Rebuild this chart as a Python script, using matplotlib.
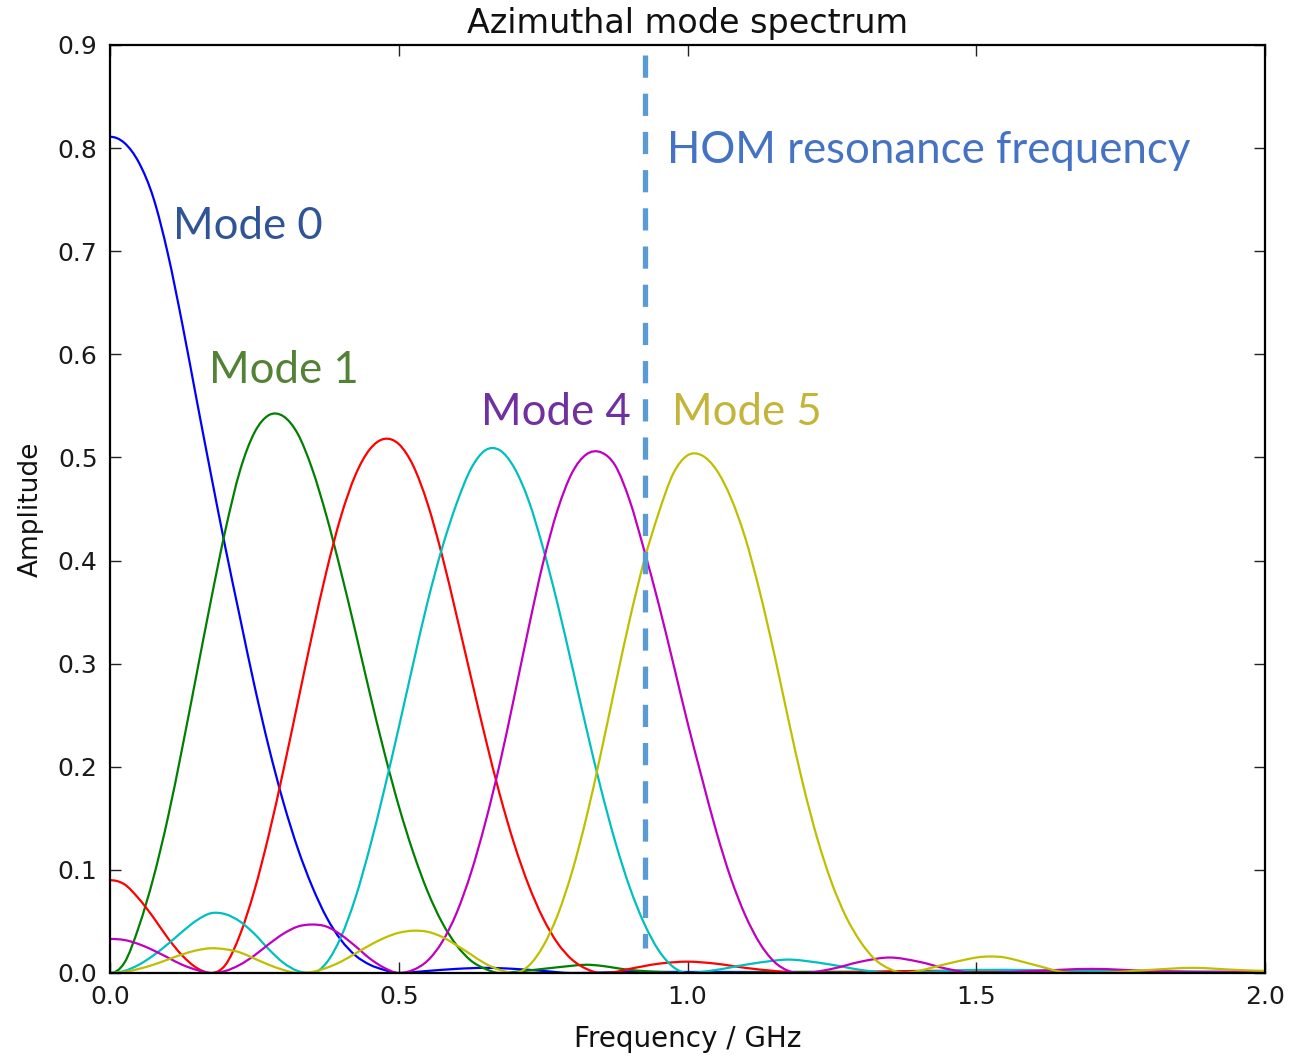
import matplotlib
matplotlib.use("Agg")
import matplotlib.pyplot as plt
from matplotlib.path import Path
from matplotlib.patches import PathPatch
from matplotlib.ticker import FormatStrFormatter

# Spectrum amplitude of each azimuthal mode versus frequency (GHz)
f_mode0 = [0.000, 0.025, 0.050, 0.075, 0.100, 0.125, 0.150, 0.175, 0.200, 0.225,
           0.250, 0.275, 0.300, 0.325, 0.350, 0.375, 0.400, 0.425, 0.450, 0.475,
           0.500, 0.550, 0.600, 0.650, 0.700, 0.750, 0.800, 0.900, 1.000, 1.200,
           1.400, 1.600, 1.800, 2.000]
a_mode0 = [0.811, 0.805, 0.786, 0.752, 0.698, 0.630, 0.556, 0.483, 0.412, 0.345,
           0.279, 0.219, 0.166, 0.121, 0.084, 0.054, 0.032, 0.017, 0.008, 0.003,
           0.000, 0.002, 0.004, 0.005, 0.004, 0.002, 0.000, 0.001, 0.001, 0.001,
           0.001, 0.001, 0.000, 0.000]

f_mode1 = [0.000, 0.025, 0.050, 0.075, 0.100, 0.125, 0.150, 0.175, 0.200, 0.225,
           0.250, 0.275, 0.300, 0.325, 0.350, 0.375, 0.400, 0.425, 0.450, 0.475,
           0.500, 0.525, 0.550, 0.575, 0.600, 0.625, 0.650, 0.675, 0.700, 0.750,
           0.800, 0.825, 0.850, 0.900, 0.950, 1.000, 1.200, 1.400, 1.600, 1.800,
           2.000]
a_mode1 = [0.000, 0.010, 0.045, 0.092, 0.150, 0.218, 0.290, 0.362, 0.430, 0.487,
           0.524, 0.541, 0.540, 0.523, 0.489, 0.443, 0.389, 0.331, 0.271, 0.214,
           0.162, 0.117, 0.079, 0.049, 0.027, 0.012, 0.004, 0.000, 0.001, 0.004,
           0.007, 0.008, 0.007, 0.003, 0.001, 0.000, 0.001, 0.001, 0.001, 0.000,
           0.000]

f_mode2 = [0.000, 0.025, 0.050, 0.075, 0.100, 0.125, 0.150, 0.175, 0.200, 0.225,
           0.250, 0.275, 0.300, 0.325, 0.350, 0.375, 0.400, 0.425, 0.450, 0.475,
           0.500, 0.525, 0.550, 0.575, 0.600, 0.625, 0.650, 0.675, 0.700, 0.725,
           0.750, 0.775, 0.800, 0.825, 0.850, 0.875, 0.900, 0.950, 1.000, 1.050,
           1.100, 1.150, 1.200, 1.400, 1.600, 1.800, 2.000]
a_mode2 = [0.090, 0.086, 0.072, 0.054, 0.034, 0.017, 0.005, 0.000, 0.008, 0.037,
           0.080, 0.134, 0.196, 0.262, 0.328, 0.390, 0.443, 0.483, 0.508, 0.518,
           0.513, 0.492, 0.455, 0.405, 0.347, 0.287, 0.228, 0.173, 0.125, 0.085,
           0.053, 0.029, 0.013, 0.004, 0.000, 0.001, 0.004, 0.009, 0.011, 0.009,
           0.005, 0.002, 0.000, 0.002, 0.002, 0.001, 0.001]

f_mode3 = [0.000, 0.025, 0.050, 0.075, 0.100, 0.125, 0.150, 0.175, 0.200, 0.225,
           0.250, 0.275, 0.300, 0.325, 0.350, 0.375, 0.400, 0.425, 0.450, 0.475,
           0.500, 0.525, 0.550, 0.575, 0.600, 0.625, 0.650, 0.675, 0.700, 0.725,
           0.750, 0.775, 0.800, 0.825, 0.850, 0.875, 0.900, 0.925, 0.950, 0.975,
           1.000, 1.050, 1.100, 1.150, 1.175, 1.200, 1.250, 1.300, 1.350, 1.500,
           1.700, 2.000]
a_mode3 = [0.000, 0.002, 0.008, 0.017, 0.028, 0.040, 0.051, 0.058, 0.057, 0.050,
           0.038, 0.023, 0.010, 0.002, 0.000, 0.010, 0.035, 0.073, 0.122, 0.178,
           0.238, 0.300, 0.360, 0.412, 0.455, 0.489, 0.507, 0.507, 0.490, 0.458,
           0.412, 0.358, 0.298, 0.237, 0.179, 0.127, 0.083, 0.048, 0.022, 0.006,
           0.000, 0.003, 0.008, 0.012, 0.013, 0.012, 0.008, 0.003, 0.000, 0.003,
           0.002, 0.001]

f_mode4 = [0.000, 0.025, 0.050, 0.075, 0.100, 0.125, 0.150, 0.175, 0.200, 0.225,
           0.250, 0.275, 0.300, 0.325, 0.350, 0.375, 0.400, 0.425, 0.450, 0.475,
           0.500, 0.525, 0.550, 0.575, 0.600, 0.625, 0.650, 0.675, 0.700, 0.725,
           0.750, 0.775, 0.800, 0.825, 0.850, 0.875, 0.900, 0.925, 0.950, 0.975,
           1.000, 1.025, 1.050, 1.075, 1.100, 1.125, 1.150, 1.175, 1.200, 1.250,
           1.300, 1.350, 1.400, 1.450, 1.500, 1.600, 1.700, 1.800, 1.900, 2.000]
a_mode4 = [0.033, 0.032, 0.028, 0.022, 0.015, 0.008, 0.003, 0.000, 0.002, 0.008,
           0.017, 0.028, 0.038, 0.045, 0.047, 0.045, 0.037, 0.026, 0.014, 0.005,
           0.000, 0.003, 0.012, 0.030, 0.058, 0.097, 0.146, 0.203, 0.268, 0.335,
           0.398, 0.449, 0.485, 0.503, 0.505, 0.492, 0.458, 0.410, 0.358, 0.301,
           0.243, 0.189, 0.137, 0.092, 0.056, 0.029, 0.011, 0.002, 0.000, 0.004,
           0.011, 0.015, 0.011, 0.004, 0.000, 0.002, 0.004, 0.002, 0.001, 0.001]

f_mode5 = [0.000, 0.025, 0.050, 0.075, 0.100, 0.125, 0.150, 0.175, 0.200, 0.225,
           0.250, 0.275, 0.300, 0.325, 0.350, 0.375, 0.400, 0.425, 0.450, 0.475,
           0.500, 0.525, 0.550, 0.575, 0.600, 0.625, 0.650, 0.675, 0.700, 0.725,
           0.750, 0.775, 0.800, 0.825, 0.850, 0.875, 0.900, 0.925, 0.950, 0.975,
           1.000, 1.025, 1.050, 1.075, 1.100, 1.125, 1.150, 1.175, 1.200, 1.225,
           1.250, 1.275, 1.300, 1.325, 1.350, 1.375, 1.400, 1.450, 1.500, 1.525,
           1.550, 1.600, 1.650, 1.700, 1.800, 1.875, 1.950, 2.000]
a_mode5 = [0.000, 0.001, 0.004, 0.008, 0.013, 0.018, 0.022, 0.024, 0.023, 0.020,
           0.014, 0.008, 0.003, 0.000, 0.001, 0.005, 0.011, 0.019, 0.027, 0.034,
           0.039, 0.041, 0.040, 0.035, 0.027, 0.018, 0.009, 0.003, 0.000, 0.007,
           0.026, 0.056, 0.098, 0.151, 0.213, 0.279, 0.343, 0.400, 0.446, 0.484,
           0.502, 0.502, 0.488, 0.461, 0.422, 0.370, 0.310, 0.245, 0.183, 0.130,
           0.087, 0.054, 0.030, 0.013, 0.004, 0.000, 0.002, 0.009, 0.015, 0.016,
           0.015, 0.008, 0.001, 0.000, 0.003, 0.005, 0.003, 0.002]

series = [
    (f_mode0, a_mode0, "b"),
    (f_mode1, a_mode1, "g"),
    (f_mode2, a_mode2, "r"),
    (f_mode3, a_mode3, "c"),
    (f_mode4, a_mode4, "m"),
    (f_mode5, a_mode5, "y"),
]

hom_freq = 0.927          # GHz
hom_span = (0.024, 0.89)  # vertical extent of the marker line

mode_labels = ["Mode 0", "Mode 1", "Mode 4", "Mode 5"]
mode_label_pos = [(0.109, 0.712), (0.171, 0.572), (0.643, 0.531), (0.973, 0.531)]
mode_label_colors = ["#2F5597", "#538135", "#7030A0", "#C4B53A"]


def smooth_path(x, y):
    """Cubic Bezier path (Catmull-Rom tangents) through the given points.

    Tangents are flat at f = 0 and wherever the spectrum touches zero.
    """
    n = len(x)
    m = [0.0] * n
    for k in range(1, n - 1):
        is_zero_touch = y[k] <= 0.0015 and y[k] <= y[k - 1] and y[k] <= y[k + 1]
        if not is_zero_touch:
            m[k] = (y[k + 1] - y[k - 1]) / (x[k + 1] - x[k - 1])
    m[-1] = (y[-1] - y[-2]) / (x[-1] - x[-2])
    verts = [(x[0], y[0])]
    codes = [Path.MOVETO]
    for i in range(n - 1):
        t = (x[i + 1] - x[i]) / 3.0
        verts += [(x[i] + t, y[i] + m[i] * t),
                  (x[i + 1] - t, y[i + 1] - m[i + 1] * t),
                  (x[i + 1], y[i + 1])]
        codes += [Path.CURVE4] * 3
    return Path(verts, codes)


plt.rcParams["lines.scale_dashes"] = False

fig = plt.figure(figsize=(12.89, 10.56), dpi=100)
ax = fig.add_axes([110 / 1289, 1 - 973 / 1056, 1155 / 1289, 928 / 1056])

for f, a, c in series:
    ax.add_patch(PathPatch(smooth_path(f, a), facecolor="none", edgecolor=c,
                           lw=1.6, joinstyle="round"))

ax.plot([hom_freq, hom_freq], [hom_span[1], hom_span[0]], color="#5B9BD5",
        lw=3.8, dashes=(16, 11.5), dash_capstyle="butt")

ax.set_xlim(0, 2.0)
ax.set_ylim(0, 0.9)
ax.set_xticks([0.0, 0.5, 1.0, 1.5, 2.0])
ax.set_yticks([0.0, 0.1, 0.2, 0.3, 0.4, 0.5, 0.6, 0.7, 0.8, 0.9])
ax.xaxis.set_major_formatter(FormatStrFormatter("%.1f"))
ax.yaxis.set_major_formatter(FormatStrFormatter("%.1f"))
ax.tick_params(direction="in", top=True, right=True, length=8, width=1.0,
               labelsize=18, pad=9, colors="#222222", labelcolor="#1a1a1a")
for sp in ax.spines.values():
    sp.set_linewidth(1.6)

ax.set_title("Azimuthal mode spectrum", fontsize=24, pad=8.5, color="#111111")
ax.set_xlabel("Frequency / GHz", fontsize=20, labelpad=11, color="#111111")
ax.set_ylabel("Amplitude", fontsize=19, labelpad=10, color="#111111")

for txt, (x, y), col in zip(mode_labels, mode_label_pos, mode_label_colors):
    ax.text(x, y, txt, color=col, fontsize=31.5, family="Lato",
            ha="left", va="baseline")

ax.text(0.964, 0.786, "HOM resonance frequency", color="#4472C4", fontsize=31.5,
        family="Lato", ha="left", va="baseline")

fig.savefig("out.png", dpi=100)
